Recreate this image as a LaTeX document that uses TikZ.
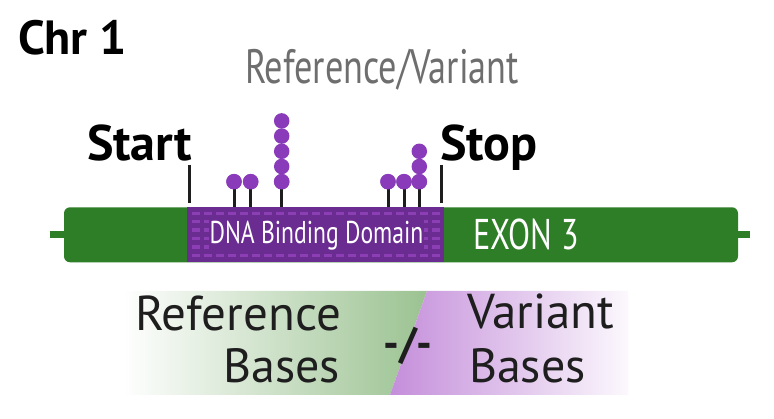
\documentclass[tikz,border=0pt]{standalone}
\usepackage{fontspec}
\setmainfont{PT Sans}
\newfontfamily\condfont[FakeStretch=0.75]{PT Sans}
\definecolor{exongreen}{RGB}{46,125,39}
\definecolor{domainpurple}{RGB}{106,44,145}
\definecolor{dashpurple}{RGB}{140,62,180}
\definecolor{lollipurple}{RGB}{138,59,186}
\definecolor{labelgray}{RGB}{110,110,110}
\definecolor{refgreen}{RGB}{155,194,145}
\definecolor{varpurple}{RGB}{196,142,218}
\definecolor{inkblack}{RGB}{30,30,30}
\tikzset{
  lbl/.style={inner sep=0pt, outer sep=0pt},
  exonbox/.style={fill=exongreen, rounded corners=6pt, inner sep=0pt, minimum width=674pt, minimum height=55pt},
  domainbox/.style={fill=domainpurple, inner sep=0pt, minimum width=257pt, minimum height=55pt},
  stub/.style={draw=exongreen, line width=7pt},
  tickline/.style={draw=inkblack, line width=3pt},
  stemline/.style={draw=inkblack, line width=3pt},
  lolli/.style={circle, fill=lollipurple, minimum size=15.5pt, inner sep=0pt},
}
\begin{document}
\begin{tikzpicture}[x=1pt,y=-1pt]
\useasboundingbox (0,0) rectangle (774,419);

% titles
\node[lbl, anchor=base west] (chr) at (18,55) {\fontsize{48}{50}\selectfont\bfseries Chr 1};
\node[lbl, anchor=base west, text=labelgray] (rv) at (245,84) {\fontsize{48.3}{50}\condfont Reference/Variant};
\node[lbl, anchor=base west] (start) at (87,161) {\fontsize{50}{50}\selectfont\bfseries Start};
\node[lbl, anchor=base west] (stop) at (440,161) {\fontsize{50}{50}\selectfont\bfseries Stop};

% exon bar
\coordinate (lstub) at (50,234.8);
\coordinate (rstub) at (750,234.8);
\node[exonbox] (exon) at (401,234.8) {};
\draw[stub] (lstub) -- (exon.west);
\draw[stub] (exon.east) -- (rstub);

% domain
\node[domainbox] (domain) at (315.5,234.8) {};
\foreach \c in {0,...,20}{
  \foreach \r in {0,...,5}{
    \fill[dashpurple] ({191.7+12*\c},{213.3+8.45*\r-1.7}) rectangle ++(8.3,3.4);
  }
}
\node[lbl, anchor=base, fill=domainpurple, inner sep=1pt, text=white] (dbd) at (316.5,243.3) {\fontsize{31.5}{34}\condfont DNA Binding Domain};
\node[lbl, anchor=base west, text=white] (ex3) at (473,250) {\fontsize{43}{46}\condfont EXON 3};

% start / stop ticks
\coordinate (st1) at (189,165);
\coordinate (st2) at (189,203);
\coordinate (sp1) at (441.7,165);
\coordinate (sp2) at (441.7,203);
\draw[tickline] (st1) -- (st2);
\draw[tickline] (sp1) -- (sp2);

% lollipops
\foreach \n/\x in {a/234,b/250.7,c/281.7,d/388,e/404,f/419.3}{
  \node[lolli] (\n1) at (\x,181.7) {};
  \draw[stemline] (\n1.center) -- (\n1 |- exon.north);
  \node[lolli] at (\n1) {};
}
\foreach \k in {2,...,5}{
  \node[lolli] (c\k) at (281.7,{181.7-15.2*(\k-1)}) {};
}
\foreach \k in {2,3}{
  \node[lolli] (f\k) at (419.3,{181.7-15.2*(\k-1)}) {};
}

% bottom comparison panel
\shade[left color=white, right color=refgreen] (122,291) -- (427,291) -- (390,395) -- (122,395) -- cycle;
\shade[left color=varpurple, right color=varpurple!6] (427,291) -- (628,291) -- (628,395) -- (390,395) -- cycle;
\node[lbl, anchor=base west, text=inkblack] (ref) at (135,331) {\fontsize{49}{50}\selectfont Reference};
\node[lbl, anchor=base east, text=inkblack] (refb) at (340,383) {\fontsize{48}{50}\selectfont Bases};
\node[lbl, anchor=base west, text=inkblack] (var) at (467,329) {\fontsize{49}{50}\selectfont Variant};
\node[lbl, anchor=base west, text=inkblack] (varb) at (469,383) {\fontsize{48}{50}\selectfont Bases};
\node[lbl, anchor=center, text=inkblack] (sep) at (408,346) {\fontsize{44}{50}\selectfont\bfseries -/-};
\end{tikzpicture}
\end{document}
